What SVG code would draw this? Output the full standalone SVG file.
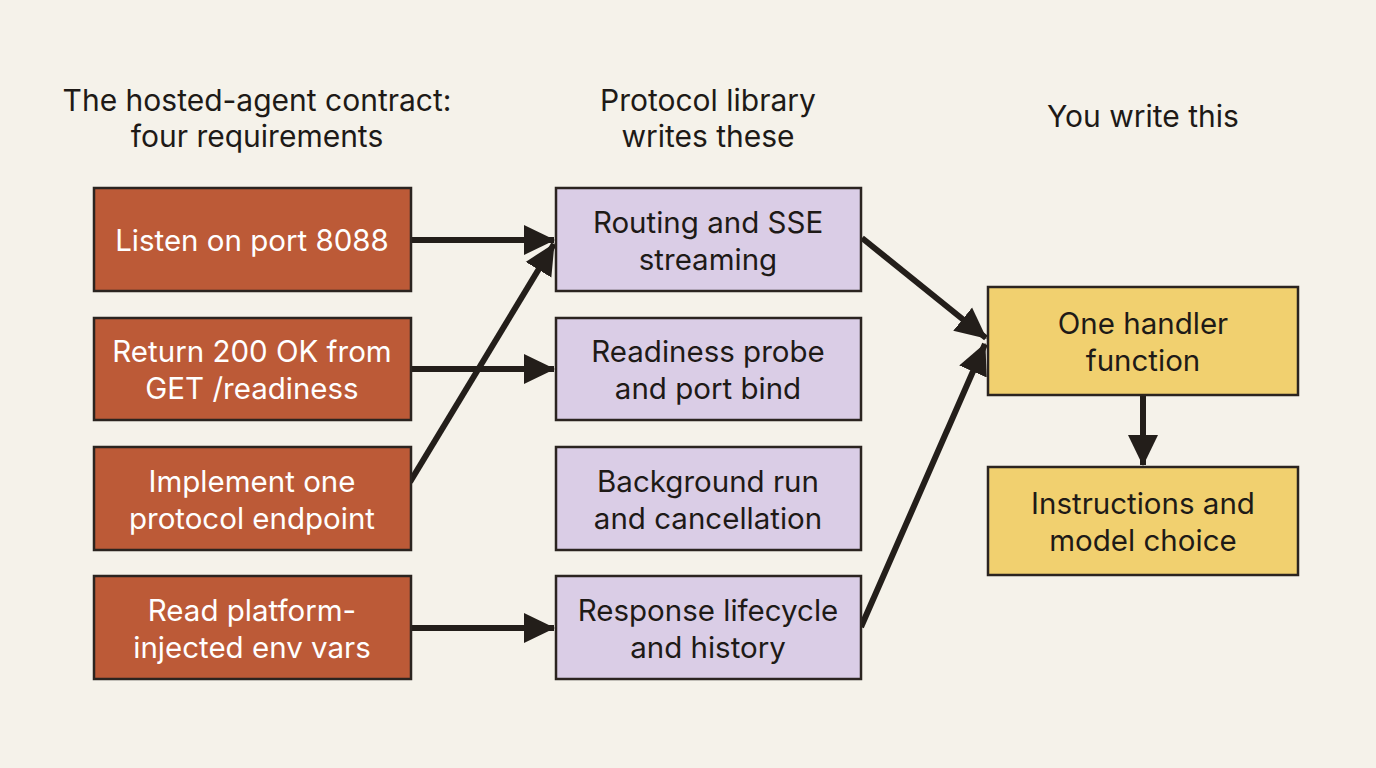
<svg xmlns="http://www.w3.org/2000/svg" width="1376" height="768" viewBox="0 0 1376 768">
<style>
.bg{fill:#F5F2EA}
.req{fill:#BC5A37;stroke:#2B2420;stroke-width:2.5}
.lib{fill:#DACDE6;stroke:#2B2420;stroke-width:2.5}
.you{fill:#F1D06F;stroke:#2B2420;stroke-width:2.5}
text{font-family:Inter,"Noto Sans","Liberation Sans",sans-serif;font-size:29.5px;text-anchor:middle}
.w{fill:#FFFFFF}
.d{fill:#1E1A17}
.h{fill:#1E1A17;font-size:30px}
.c{stroke:#231E1A;stroke-width:6;fill:none}
</style>
<defs>
<marker id="ah" markerUnits="userSpaceOnUse" markerWidth="32" markerHeight="32" viewBox="0 0 32 32" refX="30" refY="16" orient="auto">
<path d="M0,1 L31,16 L0,31 Z" fill="#231E1A"/>
</marker>
</defs>
<rect class="bg" width="1376" height="768"/>
<g id="headings">
<text class="h" x="257" y="111">The hosted-agent contract:</text>
<text class="h" x="257" y="147">four requirements</text>
<text class="h" x="708" y="111">Protocol library</text>
<text class="h" x="708" y="147">writes these</text>
<text class="h" x="1143" y="127">You write this</text>
</g>
<g id="connectors">
<line class="c" x1="411" y1="240" x2="554" y2="240" marker-end="url(#ah)"/>
<line class="c" x1="411" y1="369" x2="554" y2="369" marker-end="url(#ah)"/>
<line class="c" x1="410" y1="482" x2="554" y2="244" marker-end="url(#ah)"/>
<line class="c" x1="411" y1="628" x2="554" y2="628" marker-end="url(#ah)"/>
<line class="c" x1="862" y1="238" x2="986" y2="338" marker-end="url(#ah)"/>
<line class="c" x1="861" y1="627" x2="985" y2="344" marker-end="url(#ah)"/>
<line class="c" x1="1143" y1="396" x2="1143" y2="465" marker-end="url(#ah)"/>
</g>
<g id="req1"><rect class="req" x="94" y="188" width="317" height="103"/><text class="w" x="252" y="251">Listen on port 8088</text></g>
<g id="req2"><rect class="req" x="94" y="318" width="317" height="102"/><text class="w" x="252" y="362">Return 200 OK from</text><text class="w" x="252" y="399">GET /readiness</text></g>
<g id="req3"><rect class="req" x="94" y="447" width="317" height="103"/><text class="w" x="252" y="492">Implement one</text><text class="w" x="252" y="529">protocol endpoint</text></g>
<g id="req4"><rect class="req" x="94" y="576" width="317" height="103"/><text class="w" x="252" y="621">Read platform-</text><text class="w" x="252" y="658">injected env vars</text></g>
<g id="lib1"><rect class="lib" x="556" y="188" width="305" height="103"/><text class="d" x="708" y="233">Routing and SSE</text><text class="d" x="708" y="270">streaming</text></g>
<g id="lib2"><rect class="lib" x="556" y="318" width="305" height="102"/><text class="d" x="708" y="362">Readiness probe</text><text class="d" x="708" y="399">and port bind</text></g>
<g id="lib3"><rect class="lib" x="556" y="447" width="305" height="103"/><text class="d" x="708" y="492">Background run</text><text class="d" x="708" y="529">and cancellation</text></g>
<g id="lib4"><rect class="lib" x="556" y="576" width="305" height="103"/><text class="d" x="708" y="621">Response lifecycle</text><text class="d" x="708" y="658">and history</text></g>
<g id="you1"><rect class="you" x="988" y="287" width="310" height="108"/><text class="d" x="1143" y="334">One handler</text><text class="d" x="1143" y="371">function</text></g>
<g id="you2"><rect class="you" x="988" y="467" width="310" height="108"/><text class="d" x="1143" y="514">Instructions and</text><text class="d" x="1143" y="551">model choice</text></g>
</svg>
